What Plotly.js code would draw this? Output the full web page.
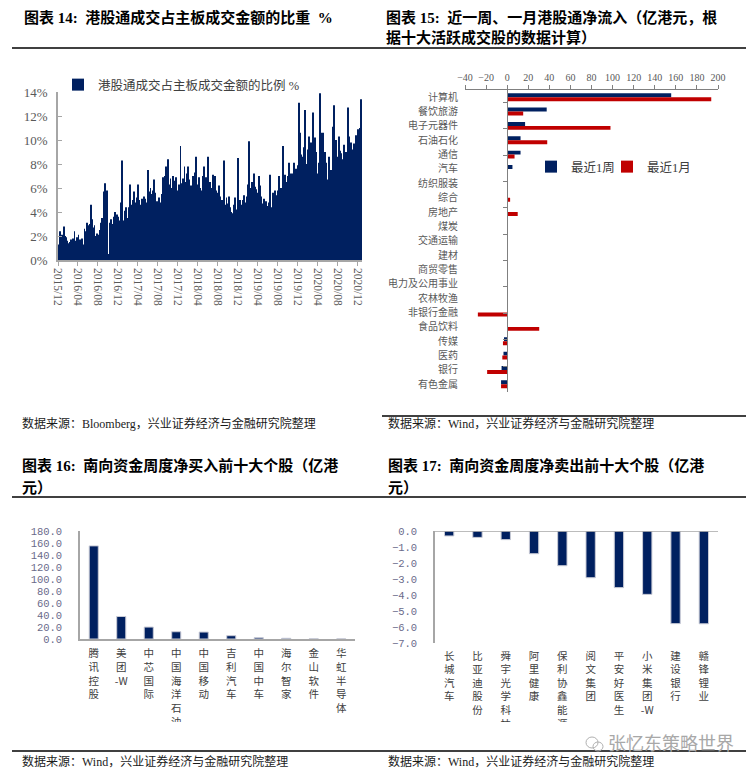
<!DOCTYPE html>
<html><head><meta charset="utf-8">
<script src="https://cdn.plot.ly/plotly-3.0.1.min.js"></script>
<style>html,body{margin:0;padding:0;background:#fff}</style>
</head><body>
<div id="chart" style="width:753px;height:777px"></div>
<script>
// ---------- Panel 14: share of Southbound turnover in HK main board turnover (%) ----------
const share2015 = [1.3, 2.4, 1.8, 2.1];
const share2016 = [2.8, 2.0, 1.9, 1.6, 1.4, 1.5, 1.7, 1.6, 1.8, 2.4, 1.6, 1.9, 2.1, 1.7, 1.5, 1.8,
  1.3, 2.6, 2.4, 3.1, 2.9, 3.0, 4.6, 3.4, 2.7, 2.9, 2.0, 2.2, 2.1, 2.5, 3.1, 3.5,
  5.7, 6.4, 5.2, 5.8, 0.5, 3.1, 3.4, 3.0, 3.6, 4.0, 3.5, 3.8, 3.6, 3.3, 4.8, 8.3];
const share2017 = [3.3, 4.1, 4.4, 3.5, 4.4, 6.3, 4.6, 4.0, 5.0, 5.7, 4.8, 5.2, 6.3, 5.0, 4.6, 5.1,
  4.9, 5.3, 5.1, 4.8, 7.5, 5.7, 6.0, 5.5, 5.8, 6.7, 5.6, 4.9, 4.7, 5.2, 4.8, 5.5,
  6.9, 7.0, 7.8, 6.2, 8.4, 6.3, 6.8, 6.0, 7.0, 6.6, 6.9, 5.7, 5.8, 6.3, 9.5, 6.4];
const share2018 = [6.8, 7.8, 6.5, 7.2, 7.8, 6.7, 6.2, 5.9, 7.0, 6.6, 7.3, 8.6, 6.3, 6.9, 6.0, 5.8,
  7.0, 7.8, 6.4, 6.9, 8.6, 6.1, 6.5, 6.0, 7.1, 6.4, 7.0, 5.8, 5.6, 6.2, 5.3, 5.0,
  5.0, 8.3, 4.6, 5.2, 4.7, 5.3, 4.4, 4.0, 3.9, 4.6, 5.2, 4.2, 8.5, 4.3, 5.0, 4.6];
const share2019 = [5.0, 5.4, 4.8, 5.3, 6.3, 9.9, 6.0, 6.5, 6.4, 7.2, 6.1, 5.9, 5.6, 7.0, 6.2, 5.3,
  4.7, 5.1, 4.6, 4.9, 4.5, 4.8, 7.1, 4.4, 5.6, 5.3, 5.8, 5.4, 5.8, 7.0, 5.5, 6.0,
  9.5, 6.7, 7.1, 6.5, 7.0, 8.1, 6.8, 7.2, 7.2, 8.1, 7.0, 7.6, 7.9, 13.1, 10.6, 8.8];
const share2020 = [8.6, 9.4, 12.5, 8.0, 9.2, 10.3, 8.7, 9.8, 12.3, 8.9, 10.2, 9.0, 7.2, 8.1, 13.9, 10.6,
  10.6, 8.4, 9.0, 8.1, 6.7, 8.6, 7.0, 7.5, 11.1, 12.9, 9.2, 10.0, 8.6, 10.3, 9.1, 8.9,
  8.4, 9.6, 8.2, 9.0, 12.7, 10.3, 9.5, 9.8, 9.2, 9.7, 8.9, 10.4, 10.9, 9.5, 11.0, 13.4];
const shareTickLabels = ['2015/12','2016/04','2016/08','2016/12','2017/04','2017/08','2017/12','2018/04',
  '2018/08','2018/12','2019/04','2019/08','2019/12','2020/04','2020/08','2020/12'];

// ---------- Panel 15: net inflow by industry (HK$ 100m) ----------
const industries = ['计算机','餐饮旅游','电子元器件','石油石化','通信','汽车','纺织服装','综合','房地产','煤炭',
  '交通运输','建材','商贸零售','电力及公用事业','农林牧渔','非银行金融','食品饮料','传媒','医药','银行','有色金属'];
const flowWeek  = [155.6, 37.5, 17.0, 12.7, 12.7, 5.0, 0, 0, 0, 0, 0, 0, 0, 0, 0, 0, 0, -3.0, -3.5, -5.3, -5.8];
const flowMonth = [193.6, 15.2, 98.0, 38.0, 7.0, 0.6, 0.6, 2.8, 10.0, 0.3, 0, 0, 0, 0, 0, -27.8, 30.4, -4.0, -4.6, -19.0, -5.8];

// ---------- Panel 16: top 10 net buys ----------
const buyNames  = ['腾讯控股','美团-W','中芯国际','中国海洋石油','中国移动','吉利汽车','中国中车','海尔智家','金山软件','华虹半导体'];
const buyValues = [155.2, 37.5, 19.9, 12.1, 11.6, 5.5, 2.2, 1.2, 0.3, 0.2];

// ---------- Panel 17: top 10 net sells ----------
const sellNames  = ['长城汽车','比亚迪股份','舜宇光学科技','阿里健康','保利协鑫能源','阅文集团','平安好医生','小米集团-W','建设银行','赣锋锂业'];
const sellValues = [-0.31, -0.40, -0.54, -1.42, -2.17, -2.92, -3.54, -3.96, -5.79, -5.80];

// ---------- build ----------
const W = 753, H = 777;
const px = x => x / W;
const py = y => 1 - y / H;
const navy = '#002060', red = '#C00000', axisGray = '#a6a6a6';
const serif = 'Liberation Serif, Noto Sans CJK SC, serif';
const cjk = 'Noto Sans CJK SC, sans-serif';
const mono = 'Liberation Mono, monospace';

const weekDays = [4, 11, 18, 25];
const shareDates = [], shareValues = [];
function addYear(year, firstMonth, arr) {
  arr.forEach((v, i) => {
    const m = firstMonth + Math.floor(i / 4);
    shareDates.push(year + '-' + String(m).padStart(2, '0') + '-' + String(weekDays[i % 4]).padStart(2, '0'));
    shareValues.push(v);
  });
}
addYear(2015, 12, share2015); addYear(2016, 1, share2016); addYear(2017, 1, share2017);
addYear(2018, 1, share2018); addYear(2019, 1, share2019); addYear(2020, 1, share2020);
const shareTickVals = shareTickLabels.map(s => s.replace('/', '-') + '-01');

// vertical (stacked) label: one CJK character per line, latin runs kept together
const stack = s => s.match(/[\u3400-\u9fff]|[^\u3400-\u9fff]+/g).join('<br>');

const x2dom = [px(465), px(718)];
const x2range = [-40, 200];
const zeroPos = x2dom[0] + (0 - x2range[0]) / (x2range[1] - x2range[0]) * (x2dom[1] - x2dom[0]);

const traces = [
  {type: 'bar', x: shareDates, y: shareValues, xaxis: 'x', yaxis: 'y',
   width: 5.5 * 86400000, marker: {color: navy}, name: '港股通成交占主板成交金额的比例 %',
   legend: 'legend', hoverinfo: 'x+y'},
  {type: 'bar', orientation: 'h', y: industries, x: flowWeek, xaxis: 'x2', yaxis: 'y2',
   marker: {color: navy}, name: '最近1周', legend: 'legend2'},
  {type: 'bar', orientation: 'h', y: industries, x: flowMonth, xaxis: 'x2', yaxis: 'y2',
   marker: {color: red}, name: '最近1月', legend: 'legend3'},
  {type: 'scatter', mode: 'markers', y: industries, x: flowWeek, xaxis: 'x2', yaxis: 'y5',
   marker: {opacity: 0}, showlegend: false, hoverinfo: 'skip'},
  {type: 'bar', x: buyNames, y: buyValues, xaxis: 'x3', yaxis: 'y3', width: 0.33,
   marker: {color: navy, line: {color: '#c9cbd6', width: 1}}, showlegend: false},
  {type: 'bar', x: sellNames, y: sellValues, xaxis: 'x4', yaxis: 'y4', width: 0.33,
   marker: {color: navy, line: {color: '#c9cbd6', width: 1}}, showlegend: false}
];

const tFont = {family: serif, size: 15, color: '#000', weight: 'bold'};
const sFont = {family: serif, size: 12, color: '#1a1a1a'};
function ann(x, y, text, font, extra) {
  return Object.assign({xref: 'paper', yref: 'paper', x: px(x), y: py(y), xanchor: 'left', yanchor: 'middle',
    text: text, showarrow: false, font: font}, extra || {});
}
const annotations = [
  ann(22, 18, '图表 14:\u00a0\u00a0港股通成交占主板成交金额的比重\u00a0\u00a0%', tFont),
  ann(384, 18, '图表 15:\u00a0\u00a0近一周、一月港股通净流入（亿港元，根', tFont),
  ann(384, 38, '据十大活跃成交股的数据计算）', tFont),
  ann(20, 466, '图表 16:\u00a0\u00a0南向资金周度净买入前十大个股（亿港', tFont),
  ann(20, 488, '元）', tFont),
  ann(386, 466, '图表 17:\u00a0\u00a0南向资金周度净卖出前十大个股（亿港', tFont),
  ann(386, 488, '元）', tFont),
  ann(20, 424, '数据来源：Bloomberg，兴业证券经济与金融研究院整理', sFont),
  ann(386, 424, '数据来源：Wind，兴业证券经济与金融研究院整理', sFont),
  ann(20, 761, '数据来源：Wind，兴业证券经济与金融研究院整理', sFont),
  ann(386, 761, '数据来源：Wind，兴业证券经济与金融研究院整理', sFont),
  ann(606, 742, '张忆东策略世界', {family: cjk, size: 18, color: '#a8a8a8'})
];

function hline(y, x0, x1, w) {
  return {type: 'line', xref: 'paper', yref: 'paper', x0: px(x0), x1: px(x1), y0: py(y), y1: py(y),
    line: {color: '#000', width: w || 1.5}, layer: 'above'};
}
const shapes = [
  {type: 'rect', xref: 'paper', yref: 'paper', x0: 0, x1: 1, y0: 0, y1: py(722),
   fillcolor: '#fff', line: {width: 0}, layer: 'above'},
  {type: 'line', xref: 'x4 domain', yref: 'y4', x0: 0, x1: 1, y0: 0, y1: 0,
   line: {color: axisGray, width: 1.5}},
  hline(48, 12, 746), hline(416, 382, 746), hline(497, 12, 746), hline(751, 12, 746),
  {type: 'circle', xref: 'paper', yref: 'paper', x0: px(586), x1: px(598), y0: py(748), y1: py(737),
   line: {color: '#b0b0b0', width: 1}, layer: 'above'},
  {type: 'circle', xref: 'paper', yref: 'paper', x0: px(593), x1: px(603), y0: py(751), y1: py(742),
   line: {color: '#b0b0b0', width: 1}, layer: 'above'}
];

const legFont = {family: serif, size: 12.5, color: '#404040'};
const layout = {
  width: W, height: H, margin: {l: 0, r: 0, t: 0, b: 0},
  paper_bgcolor: '#fff', plot_bgcolor: 'rgba(0,0,0,0)',
  barmode: 'group', bargap: 0.45, bargroupgap: 0,
  font: {family: serif, color: '#404040'},
  xaxis: {domain: [px(58), px(362)], anchor: 'y', type: 'date',
    range: ['2015-12-01', '2020-12-30'], tickmode: 'array', tickvals: shareTickVals, ticktext: shareTickLabels,
    tickangle: 90, ticks: 'outside', ticklen: 4, tickcolor: axisGray, showline: true, linecolor: axisGray,
    linewidth: 1.5, showgrid: false, zeroline: false,
    tickfont: {family: serif, size: 11.5, color: '#595959'}},
  yaxis: {domain: [py(260), py(92)], anchor: 'x', range: [0, 14], dtick: 2, ticksuffix: '%',
    ticks: 'inside', ticklen: 4, tickcolor: axisGray, showline: true, linecolor: axisGray, linewidth: 1.5,
    showgrid: false, zeroline: false, ticklabelstandoff: 6,
    tickfont: {family: serif, size: 13, color: '#595959'}},
  xaxis2: {domain: x2dom, anchor: 'y2', side: 'top', range: x2range, dtick: 20,
    ticks: 'outside', ticklen: 4, tickcolor: '#808080', showline: true, linecolor: '#808080', linewidth: 1,
    showgrid: false, zeroline: false, tickfont: {family: serif, size: 10, color: '#595959'}},
  yaxis2: {domain: [py(391.5), py(90)], anchor: 'x2', type: 'category', categoryarray: industries,
    autorange: 'reversed', showline: false, ticks: '', showgrid: false, ticklabelstandoff: 6,
    tickfont: {family: cjk, size: 10, color: '#595959'}},
  yaxis5: {overlaying: 'y2', anchor: 'free', position: zeroPos, side: 'left', type: 'category',
    categoryarray: industries, autorange: 'reversed', showline: true, linecolor: '#808080', linewidth: 1,
    ticks: 'outside', tickson: 'boundaries', ticklen: 4, tickcolor: '#808080', showticklabels: false, showgrid: false},
  xaxis3: {domain: [px(80), px(355)], anchor: 'y3', type: 'category', tickmode: 'array',
    tickvals: buyNames, ticktext: buyNames.map(stack), tickangle: 0, ticks: '', showline: true,
    linecolor: axisGray, linewidth: 1.5, showgrid: false, ticklabelstandoff: 4,
    tickfont: {family: cjk, size: 10.5, color: '#404040'}},
  yaxis3: {domain: [py(639), py(531)], anchor: 'x3', range: [0, 180], dtick: 20, tickformat: '.1f',
    showline: true, linecolor: axisGray, linewidth: 1.5, ticks: '', showgrid: false, zeroline: false,
    ticklabelstandoff: 14, tickfont: {family: mono, size: 10.5, color: '#6a6a8a'}},
  xaxis4: {domain: [px(435), px(718)], anchor: 'y4', type: 'category', tickmode: 'array',
    tickvals: sellNames, ticktext: sellNames.map(stack), tickangle: 0, ticks: '', showline: false,
    showgrid: false, ticklabelstandoff: 5, tickfont: {family: cjk, size: 10.5, color: '#404040'}},
  yaxis4: {domain: [py(643), py(531)], anchor: 'x4', range: [-7, 0], dtick: 1, tickformat: '.1f',
    showline: true, linecolor: axisGray, linewidth: 1.5, ticks: '', showgrid: false, zeroline: false,
    ticklabelstandoff: 14, tickfont: {family: mono, size: 10.5, color: '#6a6a8a'}},
  legend: {x: px(58), y: py(85), xanchor: 'left', yanchor: 'middle', bgcolor: 'rgba(0,0,0,0)', font: legFont},
  legend2: {x: px(531), y: py(167), xanchor: 'left', yanchor: 'middle', orientation: 'h',
    bgcolor: 'rgba(0,0,0,0)', font: legFont},
  legend3: {x: px(607), y: py(167), xanchor: 'left', yanchor: 'middle', orientation: 'h',
    bgcolor: 'rgba(0,0,0,0)', font: legFont},
  annotations: annotations,
  shapes: shapes
};

Plotly.newPlot('chart', traces, layout, {displayModeBar: false, responsive: false});
</script>
</body></html>
